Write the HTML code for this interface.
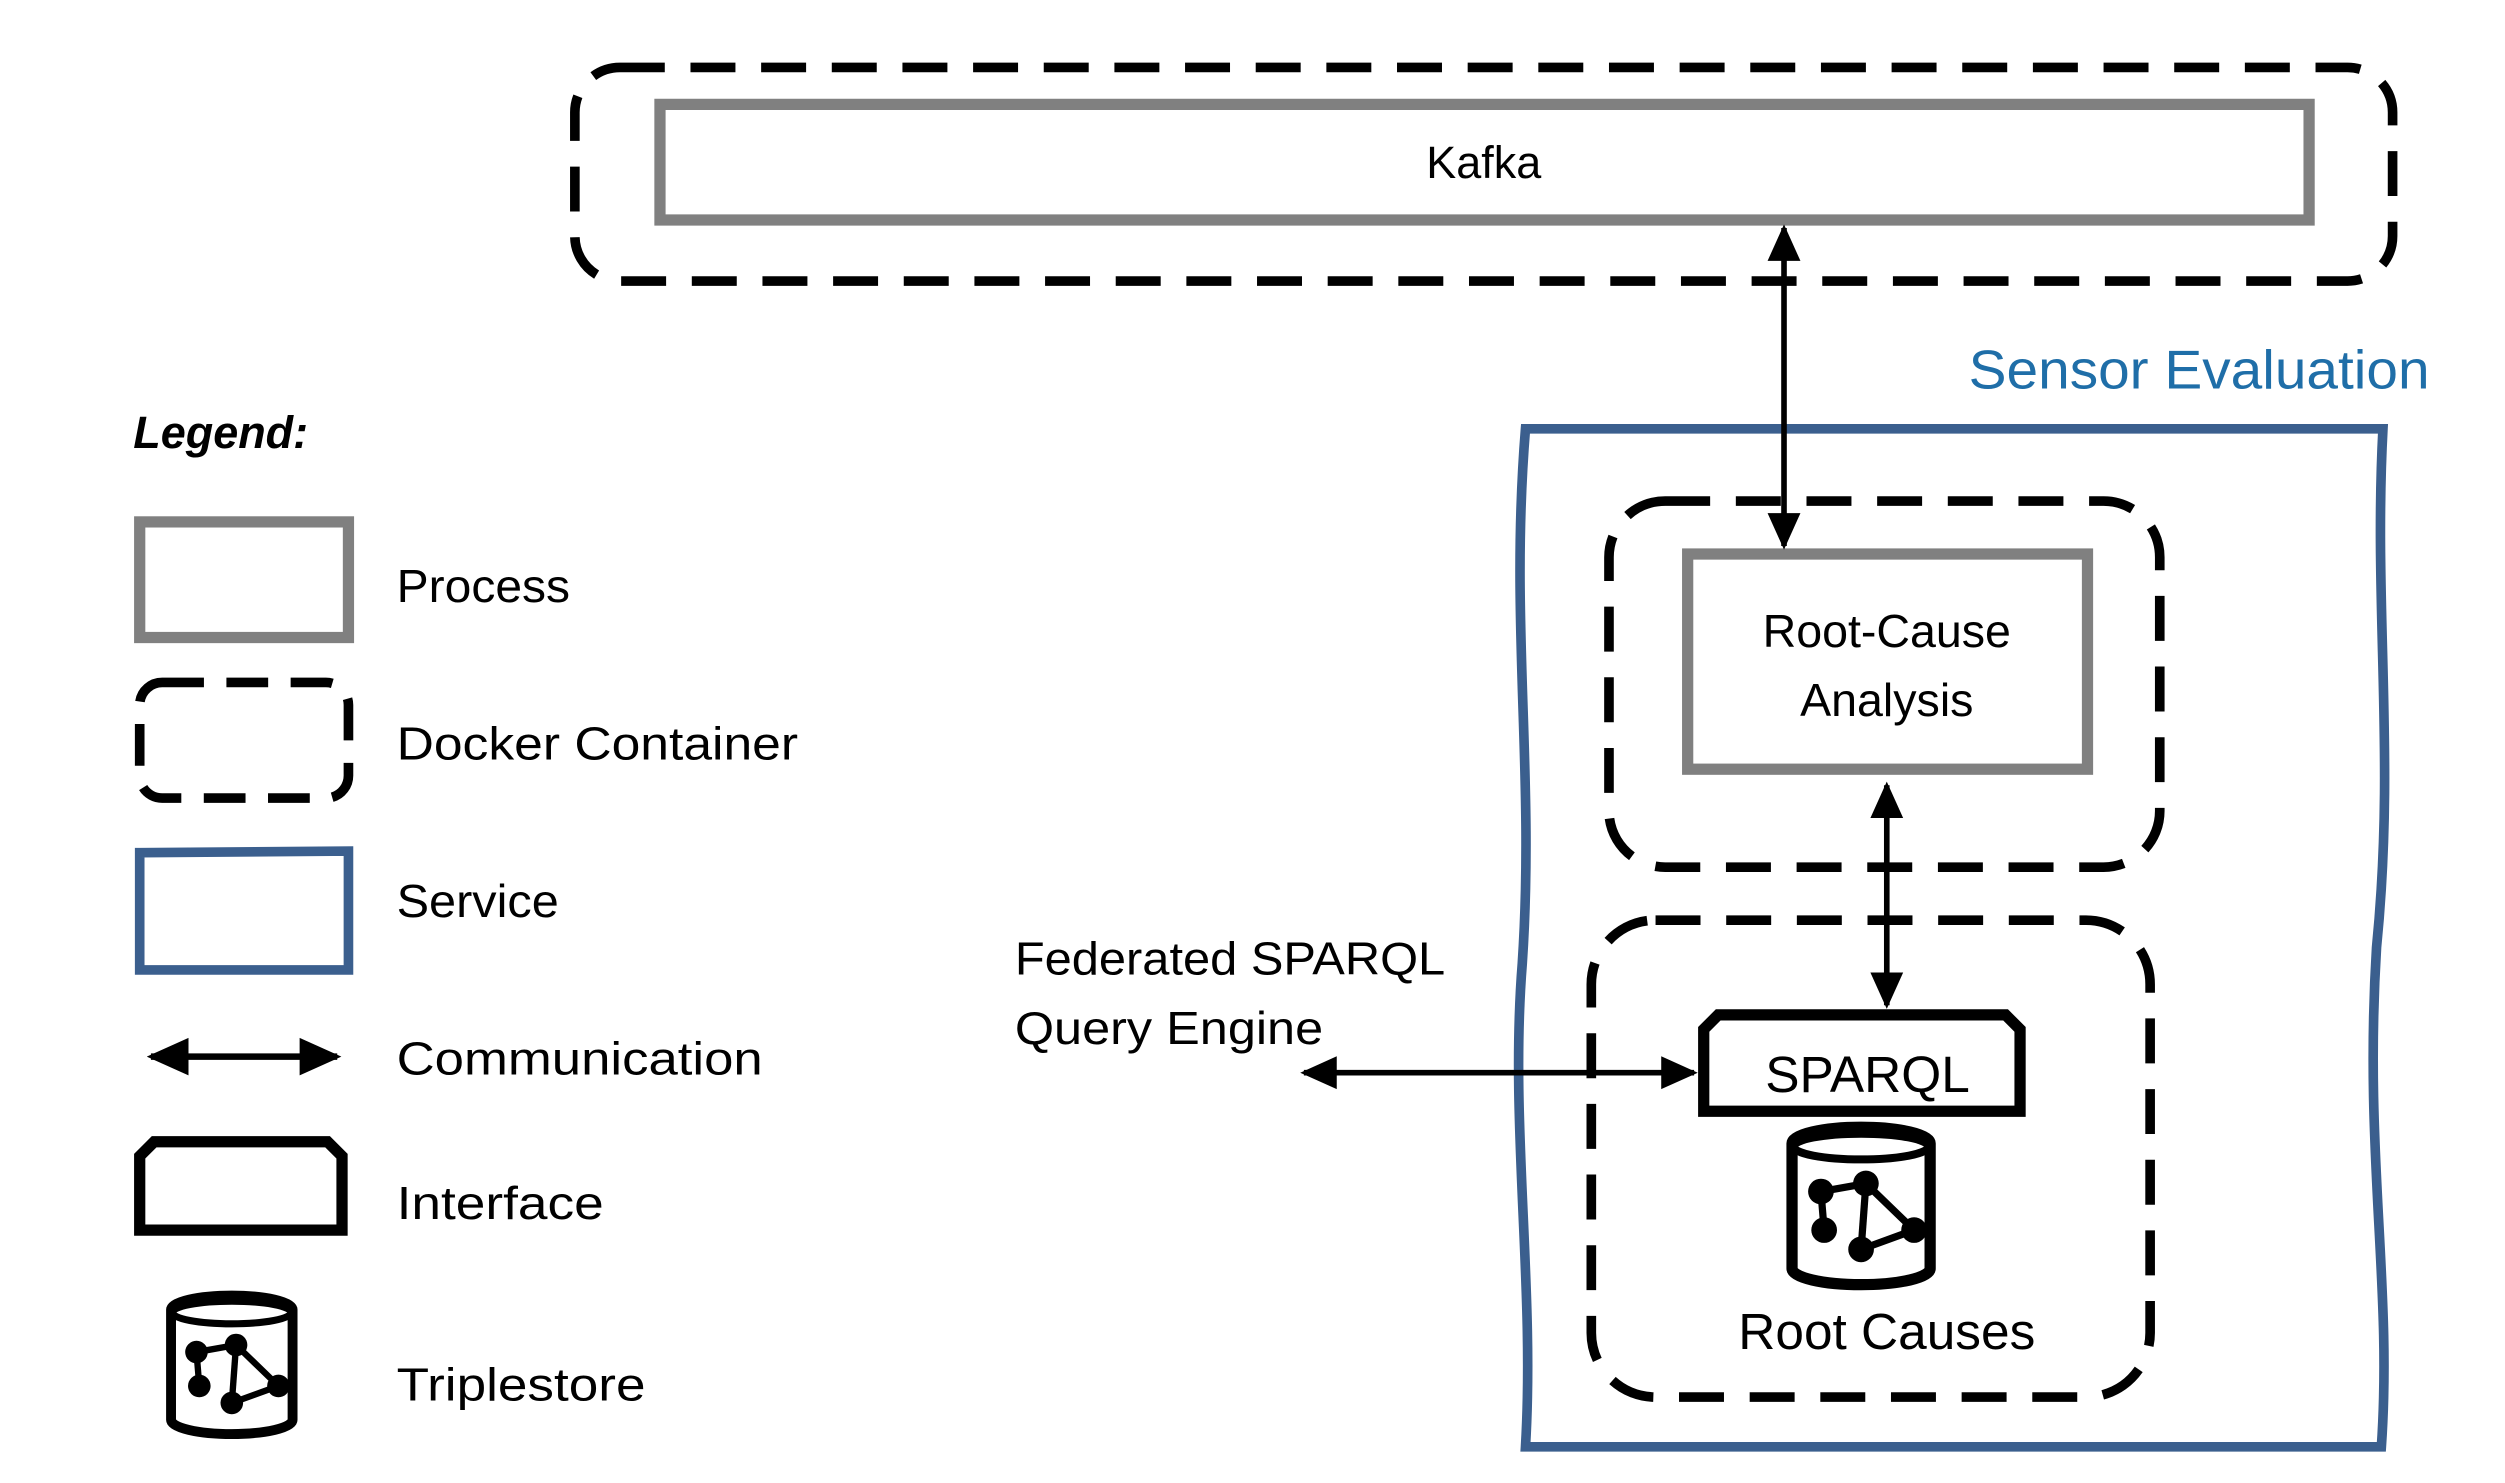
<!DOCTYPE html>
<html><head><meta charset="utf-8"><style>
html,body{margin:0;padding:0;background:#fff;}
svg{display:block;}
text{font-family:"Liberation Sans",sans-serif;}
</style></head><body>
<svg width="2505" height="1483" viewBox="0 0 1560 923.5" preserveAspectRatio="none" xmlns="http://www.w3.org/2000/svg">
<defs>
<marker id="ah" viewBox="0 0 10 10" refX="9" refY="5" markerWidth="6.5" markerHeight="6.5" orient="auto-start-reverse" markerUnits="strokeWidth">
<path d="M0,0.5 L10,5 L0,9.5 Z" fill="#000"/>
</marker>
<g id="cyl">
<path d="M4,12 A43,10 0 0 1 90,12 L90,90 A43,10 0 0 1 4,90 Z" fill="#fff" stroke="#000" stroke-width="7"/>
<ellipse cx="47" cy="14" rx="42" ry="8" fill="#fff" stroke="#000" stroke-width="5"/>
<g stroke="#000" stroke-width="4.5">
<line x1="22" y1="42" x2="50" y2="37"/><line x1="22" y1="42" x2="24" y2="66"/>
<line x1="50" y1="37" x2="47" y2="78"/><line x1="50" y1="37" x2="80" y2="66"/>
<line x1="47" y1="78" x2="80" y2="66"/>
</g>
<g fill="#000">
<circle cx="22" cy="42" r="8"/><circle cx="50" cy="37" r="8"/><circle cx="24" cy="66" r="8"/>
<circle cx="47" cy="78" r="8"/><circle cx="80" cy="66" r="8"/>
</g>
</g>
</defs>

<rect x="358" y="42" width="1132" height="133" rx="28" fill="none" stroke="#000" stroke-width="6" stroke-dasharray="28 16"/>
<rect x="411" y="65" width="1027" height="72" fill="#fff" stroke="#808080" stroke-width="7"/>
<text x="924" y="111" font-size="28" text-anchor="middle">Kafka</text>

<text x="1226" y="242" font-size="34" fill="#1f6ea8" textLength="287" lengthAdjust="spacingAndGlyphs">Sensor Evaluation</text>
<path d="M950,267 L1484,267 C1478,380 1492,470 1480,590 C1472,720 1490,800 1483,901 L950,901 C956,800 940,700 948,600 C956,480 940,390 950,267 Z" fill="none" stroke="#3b5f8e" stroke-width="6"/>

<rect x="1002" y="312" width="343" height="228" rx="35" fill="none" stroke="#000" stroke-width="6" stroke-dasharray="28 16"/>
<rect x="1051" y="345" width="249" height="134" fill="#fff" stroke="#808080" stroke-width="7"/>
<text x="1175" y="403" font-size="29" text-anchor="middle">Root-Cause</text>
<text x="1175" y="446" font-size="29" text-anchor="middle">Analysis</text>

<rect x="991" y="573" width="348" height="297" rx="40" fill="none" stroke="#000" stroke-width="6" stroke-dasharray="28 16"/>
<path d="M1061,692 L1061,641 L1070,632 L1249,632 L1258,641 L1258,692 Z" fill="#fff" stroke="#000" stroke-width="7"/>
<text x="1163" y="680" font-size="32" text-anchor="middle">SPARQL</text>
<use href="#cyl" transform="translate(1112,700)"/>
<text x="1175" y="840" font-size="32" text-anchor="middle">Root Causes</text>

<line x1="1111" y1="142" x2="1111" y2="340" stroke="#000" stroke-width="3.5" marker-start="url(#ah)" marker-end="url(#ah)"/>
<line x1="1175" y1="489" x2="1175" y2="626" stroke="#000" stroke-width="3.5" marker-start="url(#ah)" marker-end="url(#ah)"/>
<line x1="812" y1="668" x2="1055" y2="668" stroke="#000" stroke-width="3.5" marker-start="url(#ah)" marker-end="url(#ah)"/>

<text x="632" y="607" font-size="29" textLength="268" lengthAdjust="spacingAndGlyphs">Federated SPARQL</text>
<text x="632" y="650" font-size="29" textLength="192" lengthAdjust="spacingAndGlyphs">Query Engine</text>

<text x="83" y="279" font-size="28" font-weight="bold" font-style="italic">Legend:</text>
<rect x="87" y="325" width="130" height="72" fill="#fff" stroke="#808080" stroke-width="7"/>
<rect x="87" y="425" width="130" height="72" rx="14" fill="none" stroke="#000" stroke-width="6" stroke-dasharray="26 14"/>
<path d="M87,531 L217,530 L217,604 L87,604 Z" fill="none" stroke="#3b5f8e" stroke-width="6"/>
<line x1="94" y1="658" x2="210" y2="658" stroke="#000" stroke-width="4" marker-start="url(#ah)" marker-end="url(#ah)"/>
<path d="M87,766 L87,720 L96,711 L204,711 L213,720 L213,766 Z" fill="#fff" stroke="#000" stroke-width="7"/>
<use href="#cyl" transform="translate(103,805) scale(0.88,0.88)"/>

<g font-size="29">
<text x="247" y="375" textLength="108" lengthAdjust="spacingAndGlyphs">Process</text>
<text x="247" y="473" textLength="250" lengthAdjust="spacingAndGlyphs">Docker Container</text>
<text x="247" y="571" textLength="101" lengthAdjust="spacingAndGlyphs">Service</text>
<text x="247" y="669" textLength="228" lengthAdjust="spacingAndGlyphs">Communication</text>
<text x="247" y="759" textLength="129" lengthAdjust="spacingAndGlyphs">Interface</text>
<text x="247" y="872" textLength="155" lengthAdjust="spacingAndGlyphs">Triplestore</text>
</g>
</svg>
</body></html>
